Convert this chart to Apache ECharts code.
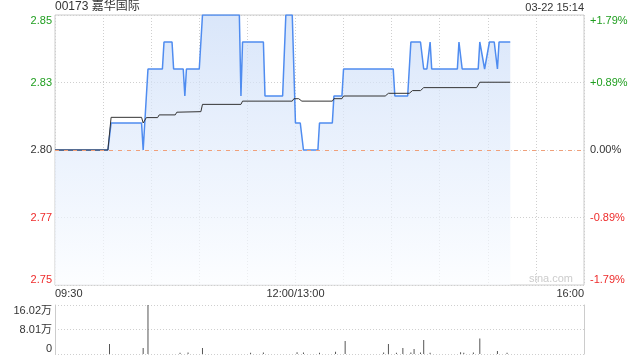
<!DOCTYPE html>
<html><head><meta charset="utf-8">
<script src="https://cdn.jsdelivr.net/npm/echarts@6/dist/echarts.min.js"></script>
<style>html,body{margin:0;padding:0;background:#fff}#c{width:640px;height:360px}</style>
</head><body><div id="c"></div>
<script>
// ---- data ----
const titleText = '00173 嘉华国际';
const stampText = '03-22 15:14';
const watermarkText = 'sina.com';
const prevClose = 2.80;
const priceMin = 2.75, priceMax = 2.85, priceStep = 0.025;
const leftTickLabels = ['2.75', '2.77', '2.80', '2.83', '2.85'];
const rightTickLabels = ['-1.79%', '-0.89%', '0.00%', '+0.89%', '+1.79%'];
const timeTickMinutes = [0, 150, 330];
const timeTickLabels = ['09:30', '12:00/13:00', '16:00'];
const sessionMinutes = 330;
const volMax = 16.02;
const volTickLabels = ['0', '8.01万', '16.02万'];

const priceMinutes = [0,33,35,54,55,56,58,67,68,73,74,80,81,82,90,92,115,116,117,130,131,142,144,148,150,153,155,164,165,173,174,179,180,211,212,220,222,228,230,232,234,235,251,252,253,254,264,265,266,268,269,271,274,276,277,284];
const priceValues = [2.80,2.80,2.81,2.81,2.80,2.80,2.83,2.83,2.84,2.84,2.83,2.83,2.82,2.83,2.83,2.85,2.85,2.82,2.84,2.84,2.82,2.82,2.85,2.85,2.81,2.81,2.80,2.80,2.81,2.81,2.82,2.82,2.83,2.83,2.82,2.82,2.84,2.84,2.83,2.83,2.84,2.83,2.83,2.84,2.84,2.83,2.83,2.84,2.84,2.83,2.83,2.84,2.84,2.83,2.84,2.84];

const avgMinutes = [0,33,35,54,55,57,64,65,75,76,91,92,116,117,148,149,152,154,173,174,179,180,206,208,221,223,228,230,263,265,284];
const avgValues = [2.800,2.800,2.8121,2.8121,2.8100,2.8120,2.8120,2.8130,2.8130,2.8140,2.8142,2.8169,2.8169,2.8181,2.8181,2.8190,2.8190,2.8181,2.8181,2.8190,2.8190,2.8200,2.8200,2.8210,2.8210,2.8220,2.8220,2.8231,2.8231,2.8251,2.8251];

const volMinutes = [34,55,58,78,83,92,122,130,151,155,165,175,181,205,208,213,217,222,224,228,230,234,253,255,261,265,276,282];
const volValues = [3.27,1.96,16.02,0.4,0.5,1.96,0.4,0.5,0.6,0.5,0.4,0.75,4.25,0.5,3.27,0.4,1.96,0.5,1.6,0.5,4.6,0.4,0.6,0.4,0.5,5.1,1.0,0.4];

// ---- chart ----
const FONT = '"Liberation Sans", Arial, "Noto Sans CJK SC", sans-serif';
const GREEN = '#1f9e1f', RED = '#ee2b2b', DARK = '#333';
const zip = (a, b) => a.map((x, i) => [x, b[i]]);
const tickIndex = v => Math.round((v - priceMin) / priceStep);
const tickColor = v => { const d = Math.round((v - prevClose) * 1000); return d > 0 ? GREEN : (d < 0 ? RED : DARK); };
const dotted = { color: '#cfcfcf', type: [1, 2], width: 1 };

const chart = echarts.init(document.getElementById('c'));
chart.setOption({
  animation: false,
  textStyle: { fontFamily: FONT },
  title: [
    { text: titleText, left: 55, top: 1, padding: 0, textStyle: { fontSize: 12, fontWeight: 'normal', color: '#333', fontFamily: FONT } },
    { text: stampText, right: 56, top: 2, padding: 0, textStyle: { fontSize: 11, fontWeight: 'normal', color: '#333', fontFamily: FONT } }
  ],
  graphic: [
    { type: 'text', right: 67, top: 273, style: { text: watermarkText, fill: '#cccccc', font: '11px ' + FONT } }
  ],
  grid: [
    { left: 55, top: 15, width: 529, height: 270, show: true, borderColor: '#cccccc', borderWidth: 1, backgroundColor: 'transparent' },
    { left: 55, top: 305, width: 529, height: 49, show: false }
  ],
  xAxis: [
    { type: 'value', gridIndex: 0, min: 0, max: sessionMinutes, interval: 30,
      axisLine: { show: false }, axisTick: { show: false },
      splitLine: { show: true, lineStyle: dotted },
      axisLabel: { margin: 3, fontSize: 11, color: DARK, fontFamily: FONT, alignMinLabel: 'left', alignMaxLabel: 'right',
        formatter: v => { const i = timeTickMinutes.indexOf(Math.round(v)); return i >= 0 ? timeTickLabels[i] : ''; } } },
    { type: 'value', gridIndex: 1, min: 0, max: sessionMinutes, interval: 30,
      axisLine: { show: false }, axisTick: { show: false }, axisLabel: { show: false }, splitLine: { show: false } }
  ],
  yAxis: [
    { type: 'value', gridIndex: 0, position: 'left', min: priceMin, max: priceMax, interval: priceStep,
      axisLine: { show: false }, axisTick: { show: false },
      splitLine: { show: true, lineStyle: dotted },
      axisLabel: { margin: 3, fontSize: 11, fontFamily: FONT, verticalAlignMinLabel: 'bottom', verticalAlignMaxLabel: 'top',
        color: v => tickColor(v), formatter: v => leftTickLabels[tickIndex(v)] } },
    { type: 'value', gridIndex: 0, position: 'right', min: priceMin, max: priceMax, interval: priceStep,
      axisLine: { show: false }, axisTick: { show: false }, splitLine: { show: false },
      axisLabel: { margin: 6, fontSize: 11, fontFamily: FONT, verticalAlignMinLabel: 'bottom', verticalAlignMaxLabel: 'top',
        color: v => tickColor(v), formatter: v => rightTickLabels[tickIndex(v)] } },
    { type: 'value', gridIndex: 1, position: 'left', min: 0, max: volMax, interval: volMax / 2,
      axisLine: { show: true, lineStyle: { color: '#cccccc' } }, axisTick: { show: false },
      splitLine: { show: true, lineStyle: dotted },
      axisLabel: { margin: 3, fontSize: 11, color: DARK, fontFamily: FONT, verticalAlignMinLabel: 'bottom', verticalAlignMaxLabel: 'top',
        formatter: v => volTickLabels[Math.round(v / (volMax / 2))] } },
    { type: 'value', gridIndex: 1, position: 'right', min: 0, max: volMax, interval: volMax / 2,
      axisLine: { show: true, lineStyle: { color: '#cccccc' } }, axisTick: { show: false },
      splitLine: { show: false }, axisLabel: { show: false } }
  ],
  series: [
    { type: 'line', xAxisIndex: 0, yAxisIndex: 0, data: zip(priceMinutes, priceValues), showSymbol: false, symbol: 'none',
      lineStyle: { color: '#4f8cf0', width: 1.5 },
      areaStyle: { origin: 'start', color: new echarts.graphic.LinearGradient(0, 0, 0, 1, [
        { offset: 0, color: '#c9dbf7' }, { offset: 1, color: '#fafcff' }]) },
      markLine: { silent: true, symbol: 'none', label: { show: false },
        lineStyle: { color: '#f0a07a', type: [4, 5], width: 1 }, data: [{ yAxis: prevClose }] },
      z: 2 },
    { type: 'line', xAxisIndex: 0, yAxisIndex: 0, data: zip(avgMinutes, avgValues), showSymbol: false, symbol: 'none',
      lineStyle: { color: '#333333', width: 1 }, z: 3 },
    { type: 'bar', xAxisIndex: 1, yAxisIndex: 2, data: zip(volMinutes, volValues), barWidth: 1,
      itemStyle: { color: '#555555' } }
  ]
});
</script>
</body></html>
